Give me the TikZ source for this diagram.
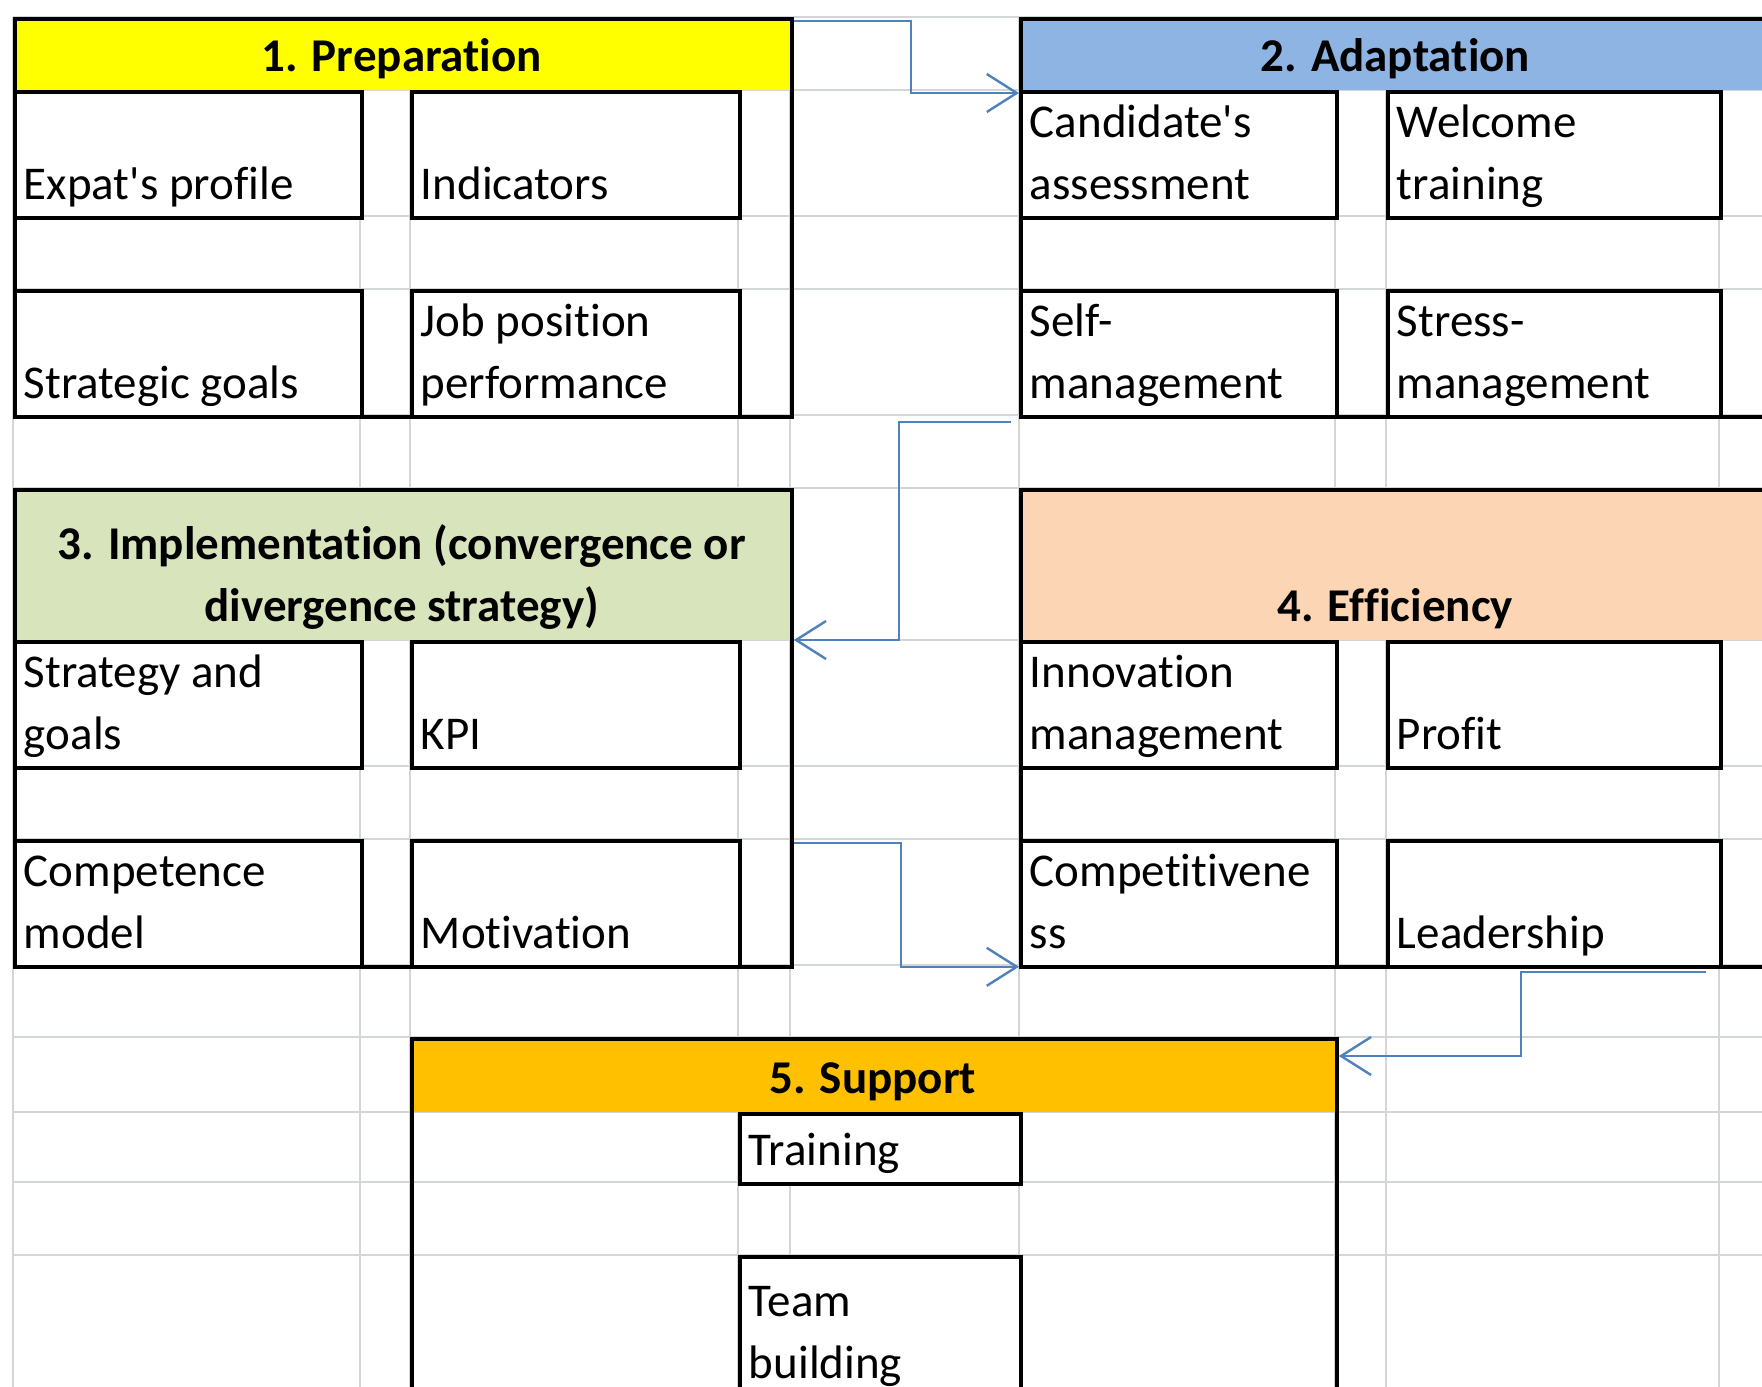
\documentclass[tikz,border=0pt]{standalone}
\usepackage{fontspec}
\setmainfont{Carlito}[Ligatures=CommonOff]
\usetikzlibrary{arrows.meta}

\definecolor{gridgray}{HTML}{D3D6D6}
\definecolor{prepyellow}{HTML}{FFFF00}
\definecolor{adaptblue}{HTML}{8DB4E2}
\definecolor{implgreen}{HTML}{D8E4BC}
\definecolor{efficpeach}{HTML}{FCD5B4}
\definecolor{supporange}{HTML}{FFC000}
\definecolor{linkblue}{HTML}{4F81BD}

% text sits at the bottom of a cell: {width}{height}{text}
\newcommand{\celltext}[3]{\vbox to #2pt{\hsize=#1pt\vfill\raggedright\leftskip=9pt\relax #3\strut\par\vskip0pt}}
\newcommand{\headtext}[3]{\vbox to #2pt{\hsize=#1pt\vfill\centering\bfseries #3\strut\par\vskip0pt}}

\begin{document}
\begin{tikzpicture}[x=1pt, y=-1pt,
  every node/.style={font=\fontsize{47}{62}\selectfont},
  gridline/.style={gridgray, line width=2.8pt},
  headbar/.style={inner sep=0pt, anchor=north west},
  cellbox/.style={draw, fill=white, line width=3.8pt, inner sep=0pt, anchor=north west},
  groupbox/.style={draw, line width=3.8pt, inner sep=0pt, anchor=north west},
  flowarrow/.style={linkblue, line width=2.4pt, -{Straight Barb[length=30pt, width=38pt]}}]
  \useasboundingbox (0,0) rectangle (1762,1387);

  % Spreadsheet grid
  \foreach \x in {13,360,410,738,790,1019,1335,1386,1719}
    \draw[gridline] (\x,17) -- (\x,1387);
  \foreach \y in {17,90,216,289,415,488,640,766,839,965,1037,1112,1182,1255}
    \draw[gridline] (13,\y) -- (1762,\y);

  % Coloured headers
  \node[headbar, fill=prepyellow] (prephead) at (13,17) {\headtext{777}{73}{1. Preparation}};
  \node[headbar, fill=adaptblue] (adapthead) at (1019,17) {\headtext{752}{73}{2. Adaptation}};
  \node[headbar, fill=implgreen] (implhead) at (13,488) {\headtext{777}{152}{3. Implementation (convergence or\\divergence strategy)}};
  \node[headbar, fill=efficpeach] (effichead) at (1019,488) {\headtext{752}{152}{4. Efficiency}};
  \node[headbar, fill=supporange] (supphead) at (410,1037) {\headtext{925}{75}{5. Support}};

  % 1. Preparation
  \node[cellbox] (expat) at (13,90) {\celltext{347}{126}{Expat\textquotesingle s profile}};
  \node[cellbox] (indic) at (410,90) {\celltext{328}{126}{Indicators}};
  \node[cellbox] (sgoals) at (13,289) {\celltext{347}{126}{Strategic goals}};
  \node[cellbox] (jobpos) at (410,289) {\celltext{328}{126}{Job position\\performance}};

  % 2. Adaptation
  \node[cellbox] (cand) at (1019,90) {\celltext{316}{126}{Candidate\textquotesingle s\\assessment}};
  \node[cellbox] (welc) at (1386,90) {\celltext{333}{126}{Welcome\\training}};
  \node[cellbox] (selfm) at (1019,289) {\celltext{316}{126}{Self-\\management}};
  \node[cellbox] (stress) at (1386,289) {\celltext{333}{126}{Stress-\\management}};

  % 3. Implementation
  \node[cellbox] (strat) at (13,640) {\celltext{347}{126}{Strategy and\\goals}};
  \node[cellbox] (kpi) at (410,640) {\celltext{328}{126}{KPI}};
  \node[cellbox] (compm) at (13,839) {\celltext{347}{126}{Competence\\model}};
  \node[cellbox] (motiv) at (410,839) {\celltext{328}{126}{Motivation}};

  % 4. Efficiency
  \node[cellbox] (innov) at (1019,640) {\celltext{316}{126}{Innovation\\management}};
  \node[cellbox] (profit) at (1386,640) {\celltext{333}{126}{Profit}};
  \node[cellbox] (compt) at (1019,839) {\celltext{316}{126}{Competitivene\\ss}};
  \node[cellbox] (lead) at (1386,839) {\celltext{333}{126}{Leadership}};

  % 5. Support
  \node[cellbox] (train) at (738,1112) {\celltext{281}{70}{Training}};
  \node[cellbox] (team) at (738,1255) {\celltext{281}{140}{Team\\building}};

  % Outer frames of the five stages
  \node[groupbox, minimum width=777pt, minimum height=398pt] (prep) at (13,17) {};
  \node[groupbox, minimum width=752pt, minimum height=398pt] (adapt) at (1019,17) {};
  \node[groupbox, minimum width=777pt, minimum height=477pt] (impl) at (13,488) {};
  \node[groupbox, minimum width=752pt, minimum height=477pt] (effic) at (1019,488) {};
  \node[groupbox, minimum width=925pt, minimum height=400pt] (supp) at (410,1037) {};

  % Elbow connectors
  \draw[flowarrow] ([yshift=-4pt]prep.north east) -- ++(117,0) |- ([yshift=-3pt]cand.north west);
  \draw[flowarrow] ([xshift=-8pt,yshift=-3pt]selfm.south west) -- ++(-112,0) |- (impl.east |- strat.north);
  \draw[flowarrow] ([yshift=-4pt]impl.east |- compm.north) -- ++(107,0) |- ([yshift=2pt]effic.west |- compt.south);
  \draw[flowarrow] ([xshift=-17pt,yshift=-3pt]lead.south east) -- ++(-185,0) |- ([yshift=-19pt]supp.north east);
\end{tikzpicture}
\end{document}
